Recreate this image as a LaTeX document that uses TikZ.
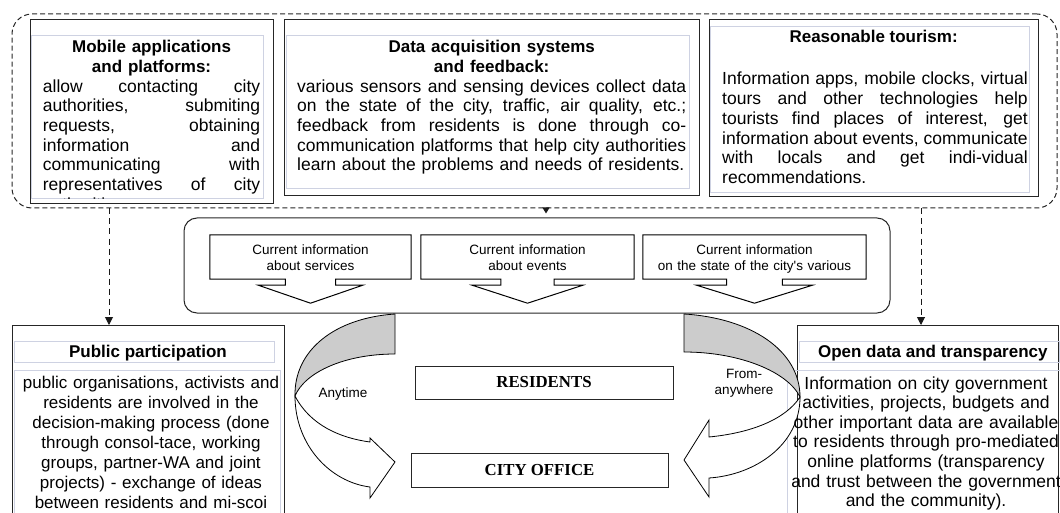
\documentclass[tikz,border=0pt]{standalone}
\usepackage{fontspec}
\setmainfont{Liberation Sans}
\newfontfamily\timesfont{Liberation Serif}
\usetikzlibrary{calc,arrows.meta}
\definecolor{frameline}{RGB}{206,210,226}
\newcommand{\Row}[1]{\makebox[\linewidth][s]{\spaceskip=0pt\xspaceskip=0pt #1}\\}
\tikzset{Frame/.style={
    draw=black!85,
    line width=1pt,
    inner sep=0pt
    },
    Inner/.style={draw=frameline, line width=0.8pt},
    Body/.style={inner sep=0pt, anchor=base west, align=left,
        font={\fontsize{17.5}{19.7}\selectfont}},
    Title/.style={inner sep=0pt, anchor=base,
        font={\bfseries\fontsize{17}{19.7}\selectfont}},
    Centre/.style={inner sep=0pt, anchor=base, align=center},
    Small/.style={inner sep=0pt, align=center,
        font={\fontsize{13.5}{16}\selectfont}},
    Plate/.style={draw=black!85, line width=1pt, inner sep=0pt,
        font={\timesfont\bfseries\fontsize{16.8}{20}\selectfont}},
    Callout/.style={draw=black, line width=1pt},
    Ribbon/.style={draw=black, line width=0.8pt},
    Link/.style={draw=black!90, line width=1pt, dash pattern=on 6pt off 4pt,
        -{Triangle[length=8pt,width=8pt]}}
}

\begin{document}
\begin{tikzpicture}[x=1pt, y=-1pt]
\useasboundingbox (0,0) rectangle (1060,513);
\clip (0,0) rectangle (1060,513);

\node [Frame, dash pattern=on 5pt off 3pt, rounded corners=20pt,
    minimum width=1045pt, minimum height=194pt] (group) at (534.5,111) {};

\node [Frame, minimum width=243pt, minimum height=184pt] (mob) at (151.5,112) {};
\node [Frame, minimum width=415pt, minimum height=176pt] (dat) at (491.5,108) {};
\node [Frame, minimum width=329pt, minimum height=177pt] (tour) at (873.5,108.5) {};
\draw [Inner] ($(mob.north west)+(2,16)$) rectangle ($(mob.south east)+(-10,-6)$);
\draw [Inner] ($(dat.north west)+(3,16)$) rectangle ($(dat.south east)+(-10,-8)$);
\draw [Inner] ($(tour.north west)+(2,7)$) rectangle ($(tour.south east)+(-9,-5)$);

\begin{scope}
\clip ($(mob.north west)+(2,16)$) rectangle ($(mob.south east)+(-10,-6)$);
\node [Body, text width=217.3pt] (mobt) at (42.7,52.7) {{\centering\bfseries\fontsize{17}{19.7}\selectfont Mobile applications\\and platforms:\par}\Row{allow contacting city}\Row{authorities, submiting}\Row{requests, obtaining}\Row{information and}\Row{communicating with}\Row{representatives of city}authorities.};
\end{scope}
\node [Body, text width=389pt] (datt) at (297,52.7) {{\centering\bfseries\fontsize{17}{19.7}\selectfont Data acquisition systems\\and feedback:\par}\Row{various sensors and sensing devices collect data}\Row{on the state of the city, traffic, air quality, etc.;}\Row{feedback from residents is done through co-}\Row{communication platforms that help city authorities}learn about the problems and needs of residents.};
\node [Title] (tourh) at (873.6,42.5) {Reasonable tourism:};
\node [Body, text width=305.5pt] (tourb) at (722,85) {\Row{Information apps, mobile clocks, virtual}\Row{tours and other technologies help}\Row{tourists find places of interest, get}\Row{information about events, communicate}\Row{with locals and get indi-vidual}recommendations.};

\node [Frame, rounded corners=13pt, minimum width=706pt, minimum height=95pt] (info) at (537,265.5) {};
\foreach \n/\x/\w/\t in {srv/310.5/201/{about services}, evt/527.5/213/{about events}, sta/754.5/223/{on the state of the city\textquotesingle s various}} {
\node [inner sep=0pt, minimum width=\w pt, minimum height=44pt] (\n) at (\x,257) {};
\draw [Callout] (\n.south west) -- (\n.north west) -- (\n.north east) -- (\n.south east)
    -- ($(\n.south)+(0.125*\w,0)$) -- ++(0,6) -- ++(0.135*\w,0) -- ($(\n.south)+(0,24)$)
    -- ($(\n.south)+(-0.26*\w,6)$) -- ++(0.135*\w,0) -- ++(0,-6) -- cycle;
\node [Small, anchor=base, text width=\w pt] (\n-t) at (\x,254.5) {Current information\\\t};
}

\node [Plate, minimum width=258pt, minimum height=33pt] (res) at (544,382.5) {RESIDENTS};
\node [Plate, minimum width=257pt, minimum height=34pt] (off) at (539.5,470) {CITY OFFICE};

\node [Frame, anchor=north west, minimum width=272pt, minimum height=200pt] (pub) at (12,325) {};
\draw [Inner] ($(pub.north west)+(2,16)$) rectangle ($(pub.north west)+(262,37)$);
\draw [Inner] ($(pub.north west)+(2,45)$) rectangle ($(pub.north west)+(268,210)$);
\node [Frame, anchor=north west, minimum width=261pt, minimum height=200pt] (opn) at (797,325) {};
\draw [Inner] ($(opn.north west)+(2,16)$) rectangle ($(opn.north west)+(262,37)$);
\draw [Inner] ($(opn.north west)+(-10,45)$) rectangle ($(opn.north west)+(268,210)$);

\filldraw [Ribbon, fill=black!20] (395,314) .. controls (335,318) and (294,350) .. (295,396)
    .. controls (305,372) and (345,354) .. (395,354) -- cycle;
\filldraw [Ribbon, fill=white] (295,396) .. controls (295,445) and (330,482) .. (370,487)
    -- (370,498) -- (395,462) -- (370,438) -- (370,442)
    .. controls (340,438) and (310,425) .. (295,396) -- cycle;
\filldraw [Ribbon, fill=black!20] (684,314) .. controls (750,318) and (800,350) .. (800,397)
    .. controls (788,372) and (740,352) .. (684,352) -- cycle;
\filldraw [Ribbon, fill=white] (800,397) .. controls (800,445) and (755,475) .. (709,478)
    -- (709,497) -- (684,460) -- (709,420) -- (709,437)
    .. controls (750,433) and (785,420) .. (800,397) -- cycle;

\node [Small] (any) at (343,394) {Anytime};
\node [Small] (anyw) at (744,383.5) {From-\\anywhere};

\node [Title] (pubh) at (148,357.7) {Public participation};
\node [Centre, text width=266pt, font={\fontsize{17}{20.15}\selectfont}] (pubb) at (151,388) {public organisations, activists and\\residents are involved in the\\decision-making process (done\\through consol-tace, working\\groups, partner-WA and joint\\projects) - exchange of ideas\\between residents and mi-scoi};
\node [Title] (opnh) at (932.8,357.7) {Open data and transparency};
\node [Centre, text width=272pt, font={\fontsize{17.5}{19.6}\selectfont}] (opnb) at (926,389) {Information on city government\\activities, projects, budgets and\\other important data are available\\to residents through pro-mediated\\online platforms (transparency\\and trust between the government\\and the community).};

\draw [Link] (109,0 |- group.south) -- (109,0 |- pub.north);
\draw [Link] (921,0 |- group.south) -- (921,0 |- opn.north);
\draw [Link, -{Triangle[length=6pt,width=7pt]}, shorten >=4pt] (546,0 |- group.south) -- (546,0 |- info.north);
\end{tikzpicture}
\end{document}
